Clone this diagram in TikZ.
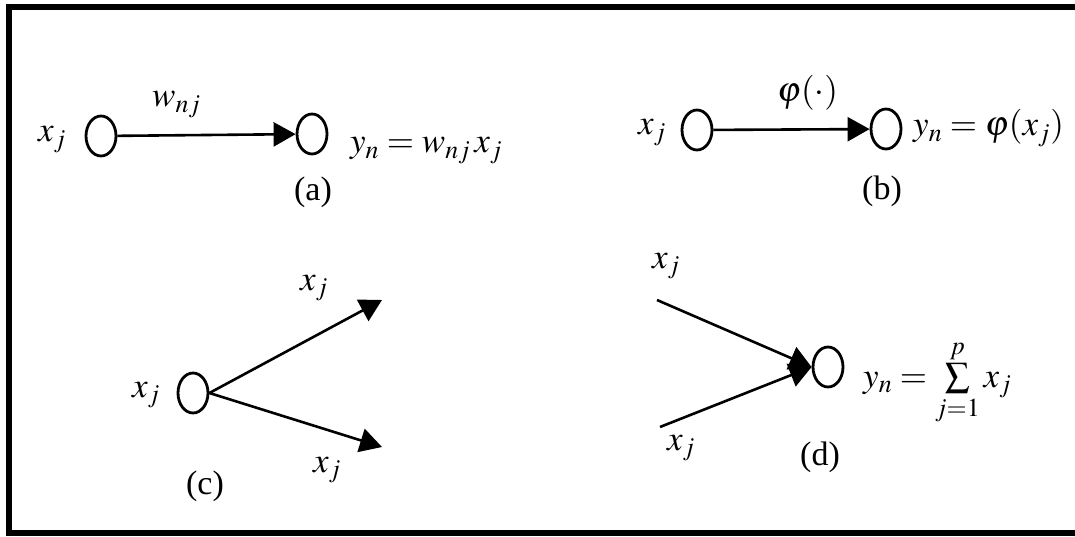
\documentclass[tikz,border=0pt]{standalone}
\usepackage{amsmath}
\usepackage{mathptmx}
\usepackage{fontspec}
\setmainfont{Liberation Serif}
\usetikzlibrary{arrows.meta}
\usetikzlibrary{shapes.geometric}

\begin{document}
\begin{tikzpicture}[
    x=1pt,
    y=-1pt,
    neuron/.style={
        ellipse,
        draw,
        line width=2.8pt,
        minimum width=30pt,
        minimum height=40pt,
        inner sep=0pt
    },
    link/.style={
        line width=2.6pt,
        -{Triangle[length=22pt,width=24pt]}
    },
    signal/.style={
        anchor=base west,
        inner sep=0pt,
        font=\fontsize{35}{40}\selectfont
    },
    caption/.style={
        anchor=base,
        inner sep=0pt,
        font=\fontsize{34}{38}\selectfont
    }
]

\useasboundingbox (0,0) rectangle (1075,537);

%------------------------------------------------
% Frame (right side runs off the page)
%------------------------------------------------
\draw[line width=6pt] (1080,7) -- (9,7) -- (9,533) -- (1080,533);

%------------------------------------------------
% (a) weighted link
%------------------------------------------------
\node[neuron] (ain) at (101,136) {};
\node[neuron] (aout) at (312,134) {};
\draw[link] (ain) -- (aout);

\node[signal] (axj) at (38,142) {$x_j$};
\node[signal] (aw) at (152,107) {$w_{nj}$};
\node[signal] (ay) at (350,153) {$y_n = w_{nj}\,x_j$};
\node[caption] (acap) at (313,201) {(a)};

%------------------------------------------------
% (b) activation link
%------------------------------------------------
\node[neuron] (bin) at (697,130) {};
\node[neuron] (bout) at (886,129) {};
\draw[link] (bin) -- (bout);

\node[signal] (bxj) at (638,135) {$x_j$};
\node[signal] (bphi) at (777,102) {$\varphi(\cdot)$};
\node[signal] (by) at (913,136) {$y_n = \varphi(x_j)$};
\node[caption] (bcap) at (882,200) {(b)};

%------------------------------------------------
% (c) fan-out
%------------------------------------------------
\node[neuron] (cin) at (193,393) {};
\coordinate (cup) at (382,300);
\coordinate (cdown) at (382,447);
\draw[link] (cin.east) -- (cup);
\draw[link] (cin.east) -- (cdown);

\node[signal] (cxj) at (132,397) {$x_j$};
\node[signal] (cupxj) at (300,290) {$x_j$};
\node[signal] (cdownxj) at (313,472) {$x_j$};
\node[caption] (ccap) at (205,494) {(c)};

%------------------------------------------------
% (d) summing node
%------------------------------------------------
\node[neuron] (dsum) at (828,367) {};
\coordinate (dup) at (657,300);
\coordinate (ddown) at (660,427);
\draw[link] (dup) -- (dsum.west);
\draw[link] (ddown) -- (dsum.west);

\node[signal] (dupxj) at (652,268) {$x_j$};
\node[signal] (ddownxj) at (667,450) {$x_j$};
\node[signal] (dy) at (863,387) {$y_n = \sum\limits_{j=1}^{p} x_j$};
\node[caption] (dcap) at (820,465) {(d)};

\end{tikzpicture}
\end{document}
